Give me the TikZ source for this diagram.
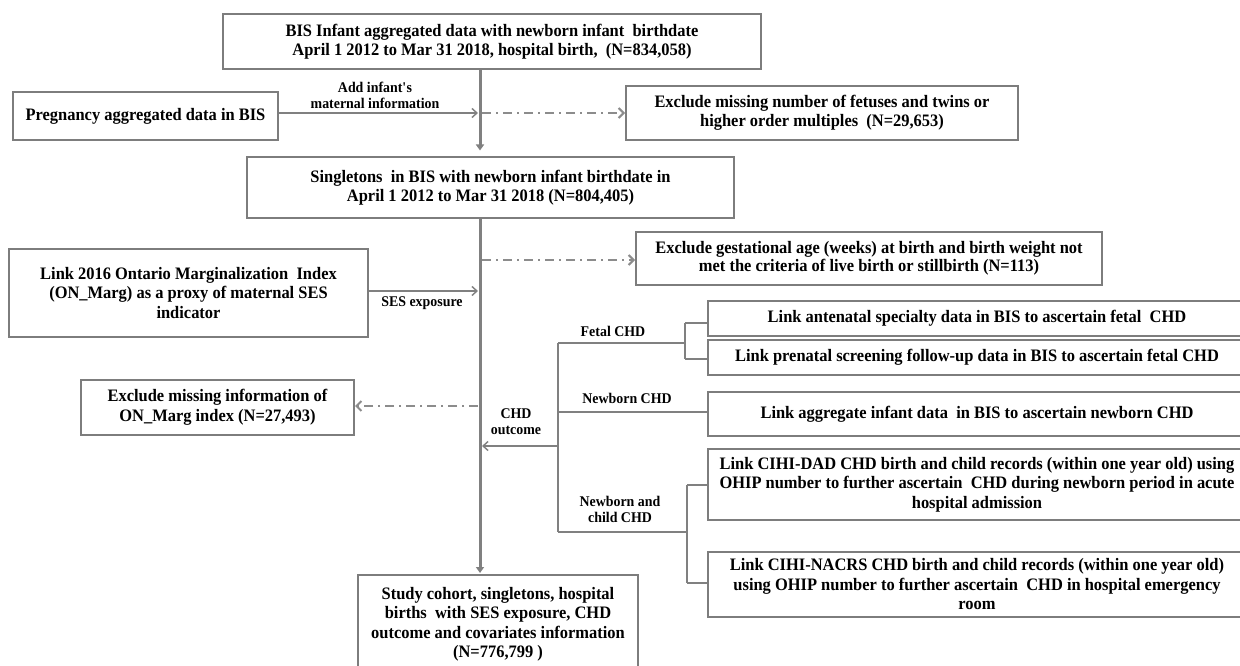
\documentclass[tikz,border=0pt]{standalone}
\usepackage{fontspec}
\setmainfont[FakeStretch=0.94]{Liberation Serif}
\usetikzlibrary{arrows.meta}
\definecolor{boxgray}{RGB}{125,125,125}
\definecolor{linegray}{RGB}{128,128,128}
\definecolor{dashgray}{RGB}{140,140,140}
\begin{document}
\begin{tikzpicture}[x=1pt,y=-1pt,
  box/.style={draw=boxgray, line width=2pt, inner sep=0pt, align=center, font=\bfseries\fontsize{17.5}{19.5}\selectfont},
  lbl/.style={align=center, inner sep=0pt, font=\bfseries\fontsize{14.8}{16.5}\selectfont},
  mainline/.style={draw=linegray, line width=3pt},
  mainarrow/.style={mainline, -{Triangle[length=6pt,width=8pt]}},
  thinline/.style={draw=linegray, line width=1.6pt},
  thinarrow/.style={thinline, -{Straight Barb[length=5pt,width=9pt,line width=1.4pt]}},
  dashline/.style={draw=dashgray, line width=2.2pt, dash pattern=on 9pt off 5pt on 2pt off 5pt, -{Straight Barb[length=5pt,width=10pt,line width=2pt]}},
]
\useasboundingbox (0,0) rectangle (1240,666);
\clip (0,0) rectangle (1240,666);
\fill[white] (0,0) rectangle (1240,666);

% boxes
\node[box, minimum width=538pt, minimum height=55pt] (top) at (492,41.5)
  {BIS Infant aggregated data with newborn infant\ \ birthdate\\April 1 2012 to Mar 31 2018, hospital birth,\ \ (N=834,058)};
\node[box, minimum width=265pt, minimum height=48pt] (preg) at (145.5,116)
  {Pregnancy aggregated data in BIS};
\node[box, minimum width=392pt, minimum height=54pt] (excl1) at (822,113)
  {Exclude missing number of fetuses and twins or\\higher order multiples\ \ (N=29,653)};
\node[box, minimum width=487pt, minimum height=61pt] (single) at (490.5,187.5)
  {Singletons\ \ in BIS with newborn infant birthdate in\\April 1 2012 to Mar 31 2018 (N=804,405)};
\node[box, minimum width=466pt, minimum height=53pt, font=\bfseries\fontsize{17.5}{18}\selectfont] (excl2) at (869,258.5)
  {Exclude gestational age (weeks) at birth and birth weight not\\met the criteria of live birth or stillbirth (N=113)};
\node[box, minimum width=359pt, minimum height=88pt] (marg) at (188.5,293)
  {Link 2016 Ontario Marginalization\ \ Index\\(ON\_Marg) as a proxy of maternal SES\\indicator};
\node[box, minimum width=273pt, minimum height=55pt] (exclmarg) at (217.5,407.5)
  {Exclude missing information of\\ON\_Marg index (N=27,493)};
\node[box, minimum width=538pt, minimum height=35pt] (fet1) at (977,318.5)
  {Link antenatal specialty data in BIS to ascertain fetal\ \ CHD};
\node[box, minimum width=538pt, minimum height=35pt] (fet2) at (977,357.5)
  {Link prenatal screening follow-up data in BIS to ascertain fetal CHD};
\node[box, minimum width=538pt, minimum height=44pt] (newb) at (977,414)
  {Link aggregate infant data\ \ in BIS to ascertain newborn CHD};
\node[box, minimum width=538pt, minimum height=71pt] (dad) at (977,484.5)
  {Link CIHI-DAD CHD birth and child records (within one year old) using\\OHIP number to further ascertain\ \ CHD during newborn period in acute\\hospital admission};
\node[box, minimum width=538pt, minimum height=65pt] (nacrs) at (977,584.5)
  {Link CIHI-NACRS CHD birth and child records (within one year old)\\using OHIP number to further ascertain\ \ CHD in hospital emergency\\room};
\node[box, minimum width=280pt, minimum height=99pt] (study) at (498,624.5)
  {Study cohort, singletons, hospital\\births\ \ with SES exposure, CHD\\outcome and covariates information\\(N=776,799 )};

% labels
\node[lbl] (ladd) at (375,95.5) {Add infant\textquotesingle s\\maternal information};
\node[lbl] (lses) at (422,303) {SES exposure};
\node[lbl] (lfet) at (613,331) {Fetal CHD};
\node[lbl] (lnew) at (627,398) {Newborn CHD};
\node[lbl] (lchd) at (516,421.5) {CHD\\outcome};
\node[lbl] (lnc) at (620,509.5) {Newborn and\\child CHD};

% main spine coordinates
\coordinate (m0) at (480,69);
\coordinate (m1) at (480,150.5);
\coordinate (m2) at (480,218);
\coordinate (m3) at (480,573);
\draw[mainarrow] (top.south -| m0) -- (m1);
\draw[mainarrow] (single.south -| m2) -- (m3);

% side inputs
\coordinate (a1) at (478,113);
\draw[thinarrow] (preg.east |- a1) -- (a1);
\coordinate (a2) at (478,291);
\draw[thinarrow] (marg.east |- a2) -- (a2);

% exclusions
\coordinate (d1) at (482,113);
\draw[dashline] (d1) -- (d1 -| excl1.west);
\coordinate (d2) at (482,260);
\draw[dashline] (d2) -- (d2 -| excl2.west);
\coordinate (d3) at (478,406);
\draw[dashline] (d3) -- (d3 -| exclmarg.east);

% CHD tree
\coordinate (t0) at (558,343);
\coordinate (t1) at (558,532);
\coordinate (tf) at (685,343);
\coordinate (tf1) at (685,323);
\coordinate (tf2) at (685,359);
\coordinate (tn) at (558,412);
\coordinate (tc) at (687,532);
\coordinate (tc1) at (687,485);
\coordinate (tc2) at (687,583);
\coordinate (tout) at (558,446);
\coordinate (tin) at (482,446);
\draw[thinline] (t0) -- (t1);
\draw[thinline] (t0) -- (tf);
\draw[thinline] (tf1) -- (tf2);
\draw[thinline] (tf1) -- (tf1 -| fet1.west);
\draw[thinline] (tf2) -- (tf2 -| fet2.west);
\draw[thinline] (tn) -- (tn -| newb.west);
\draw[thinline] (t1) -- (tc);
\draw[thinline] (tc1) -- (tc2);
\draw[thinline] (tc1) -- (tc1 -| dad.west);
\draw[thinline] (tc2) -- (tc2 -| nacrs.west);
\draw[thinarrow] (tout) -- (tin);
\end{tikzpicture}
\end{document}
